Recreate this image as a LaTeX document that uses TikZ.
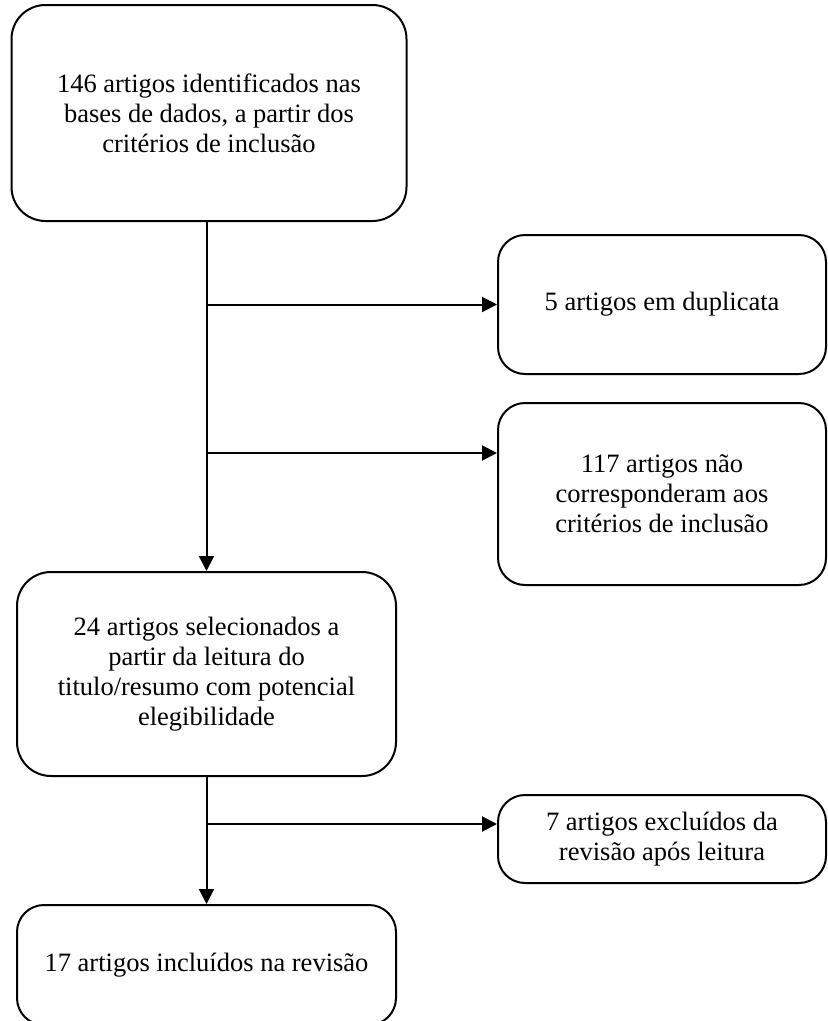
\documentclass[tikz,border=0pt]{standalone}
\usepackage{fontspec}
\setmainfont{Liberation Serif}
\usepackage{tikz}
\usetikzlibrary{arrows.meta}
\usetikzlibrary{positioning}
\tikzstyle{etapa}=[draw,rectangle,rounded corners=27pt,align=center,line width=2pt,inner sep=4pt]
\tikzstyle{seta}=[line width=2pt,-{Triangle[length=15pt,width=15pt]}]

\begin{document}
\begin{tikzpicture}[x=1pt,y=-1pt,font=\fontsize{26.5}{30}\selectfont]
\useasboundingbox (0,0) rectangle (828,1021);

\node [etapa,rounded corners=34pt,minimum width=395pt,minimum height=216pt] (ident) at (209,113)
  {146 artigos identificados nas\\bases de dados, a partir dos\\critérios de inclusão};
\node [etapa,minimum width=328pt,minimum height=139pt] (dup) at (662,304.5)
  {5 artigos em duplicata};
\node [etapa,minimum width=328pt,minimum height=182pt] (naocorr) at (662,494)
  {117 artigos não\\corresponderam aos\\critérios de inclusão};
\node [etapa,rounded corners=34pt,minimum width=379pt,minimum height=204pt] (sel) at (206.5,674)
  {24 artigos selecionados a\\partir da leitura do\\titulo/resumo com potencial\\elegibilidade};
\node [etapa,minimum width=328pt,minimum height=88pt] (excl) at (662,839)
  {7 artigos excluídos da\\revisão após leitura};
\node [etapa,minimum width=379pt,minimum height=120pt] (incl) at (206.5,965)
  {17 artigos incluídos na revisão};

% fluxo principal
\draw [seta] (sel.north |- ident.south) -- (sel.north);
\draw [seta] (incl.north |- sel.south) -- (incl.north);

% exclusoes
\draw [seta] (sel.north |- dup.west) -- (dup.west);
\coordinate (b2) at ([yshift=41pt]naocorr.west);
\draw [seta] (sel.north |- b2) -- (b2);
\coordinate (b3) at ([yshift=15pt]excl.west);
\draw [seta] (incl.north |- b3) -- (b3);

\end{tikzpicture}
\end{document}
